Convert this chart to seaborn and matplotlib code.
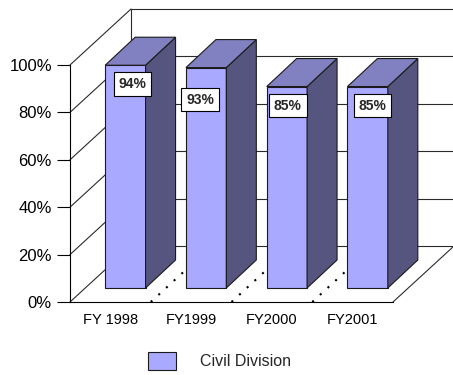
import matplotlib
matplotlib.use("Agg")
import matplotlib.pyplot as plt
import matplotlib.transforms as mtransforms
from matplotlib.patches import Polygon, Patch
from matplotlib.lines import Line2D
from matplotlib.ticker import PercentFormatter
import seaborn as sns
import pandas as pd

# Data
categories = ["FY 1998", "FY1999", "FY2000", "FY2001"]
values = [94, 93, 85, 85]
value_labels = ["94%", "93%", "85%", "85%"]
series_name = "Civil Division"
y_ticks = [0, 20, 40, 60, 80, 100]

# Styling
FRONT = "#a9a9ff"
SIDE = "#55557f"
TOP = "#8181c1"
EDGE = "#1a1a1a"
WALL_DEPTH = (61, 56)   # pixel offset of the back wall
BAR_SHIFT = (15, 14)    # pixel offset of the bars' front faces
BAR_DEPTH = (30, 28)    # pixel depth of each bar
LABEL_OFFSETS = [(22, -5), (9, -18), (16, -5), (20, -5)]

sns.set_theme(style="white")
plt.rcParams["font.family"] = ["Liberation Sans", "DejaVu Sans"]

W, H = 453, 375
fig = plt.figure(figsize=(W / 100, H / 100), dpi=100)
ax = fig.add_axes([70 / W, (H - 302) / H, (393 - 70) / W, (302 - 65) / H])
ax.patch.set_visible(False)

df = pd.DataFrame({"year": categories, "pct": values})
sns.barplot(data=df, x="year", y="pct", color=FRONT, saturation=1, width=0.5,
            edgecolor=EDGE, linewidth=0.8, ax=ax, zorder=3)
bars = list(ax.patches)

x0, x1 = -0.5, len(categories) - 0.5
ax.set_xlim(x0, x1)
ax.set_ylim(0, 100)
ax.set_xlabel("")
ax.set_ylabel("")

ident = mtransforms.IdentityTransform()


def px(x, y, off=(0, 0)):
    dx, dy = ax.transData.transform((x, y))
    return (dx + off[0], dy + off[1])


def seg(p, q, **kw):
    ax.add_line(Line2D([p[0], q[0]], [p[1], q[1]], transform=ident,
                       clip_on=False, **kw))


# Walls and floor
grid_kw = dict(color="#2b2b2b", lw=0.8, zorder=1)
for t in y_ticks:
    seg(px(x0, t, WALL_DEPTH), px(x1, t, WALL_DEPTH), **grid_kw)
    seg(px(x0, t), px(x0, t, WALL_DEPTH), **grid_kw)
seg(px(x0, 0, WALL_DEPTH), px(x0, 100, WALL_DEPTH), **grid_kw)
seg(px(x1, 0), px(x1, 0, WALL_DEPTH), **grid_kw)
seg(px(x1, 0, WALL_DEPTH), px(x1, 100, WALL_DEPTH), **grid_kw)

# Dotted floor dividers between categories
for k in range(len(categories) - 1):
    seg(px(k + 0.5, 0), px(k + 0.5, 0, WALL_DEPTH), color="black", lw=1.5,
        linestyle=(0, (1, 4)), zorder=2)

# 3D bars: shifted front faces plus side and top faces
shift = mtransforms.offset_copy(ax.transData, fig=fig, x=BAR_SHIFT[0],
                                y=BAR_SHIFT[1], units="dots")
back = (BAR_SHIFT[0] + BAR_DEPTH[0], BAR_SHIFT[1] + BAR_DEPTH[1])
for bar in bars:
    bar.set_transform(shift)
    bar.set_clip_on(False)
    xl = bar.get_x()
    xr = xl + bar.get_width()
    h = bar.get_height()
    side = [px(xr, 0, BAR_SHIFT), px(xr, h, BAR_SHIFT), px(xr, h, back), px(xr, 0, back)]
    top = [px(xl, h, BAR_SHIFT), px(xr, h, BAR_SHIFT), px(xr, h, back), px(xl, h, back)]
    for pts, col in ((side, SIDE), (top, TOP)):
        ax.add_patch(Polygon(pts, closed=True, facecolor=col, edgecolor=EDGE,
                             lw=0.8, transform=ident, clip_on=False, zorder=3))

# Value labels
for i, (v, lab) in enumerate(zip(values, value_labels)):
    ax.annotate(lab, xy=(i, v), xytext=LABEL_OFFSETS[i], textcoords="offset pixels",
                ha="center", va="center", fontsize=10, fontweight="bold",
                bbox=dict(boxstyle="square,pad=0.35", fc="white", ec="black", lw=0.8),
                zorder=5, annotation_clip=False)

# Axes
ax.set_yticks(y_ticks)
ax.yaxis.set_major_formatter(PercentFormatter(100, decimals=0))
ax.tick_params(axis="y", left=True, length=9.4, width=0.8, pad=3.6,
               labelsize=12, color="black", labelcolor="black")
ax.tick_params(axis="x", bottom=False, length=0, pad=8, labelsize=10.5,
               labelcolor="black")
for name, sp in ax.spines.items():
    if name in ("left", "bottom"):
        sp.set_visible(True)
        sp.set_color("black")
        sp.set_linewidth(0.8)
    else:
        sp.set_visible(False)

# Legend
handle = Patch(facecolor=FRONT, edgecolor=EDGE, lw=0.8)
fig.legend([handle], [series_name], loc="center left",
           bbox_to_anchor=(148 / W, (H - 361) / H), frameon=False, fontsize=11.5,
           handlelength=1.75, handleheight=1.35, handletextpad=1.5,
           borderpad=0, borderaxespad=0)

fig.savefig("out.png", dpi=100)
